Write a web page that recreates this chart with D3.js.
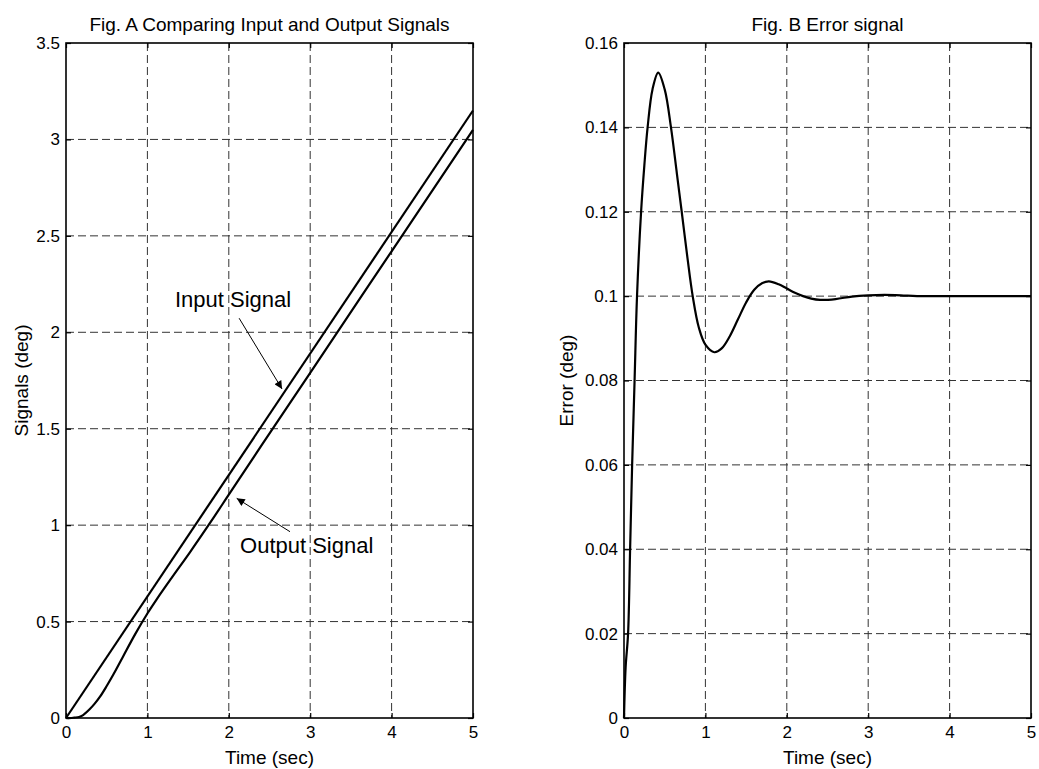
<!doctype html>
<html>
<head>
<meta charset="utf-8">
<script src="https://d3js.org/d3.v7.min.js"></script>
<style>
  body { margin: 0; background: #fff; }
  svg text { font-family: "Liberation Sans", Arial, Helvetica, sans-serif; fill: #000; }
</style>
</head>
<body>
<div id="chart"></div>
<script>
var W = 1039, H = 769;

// ---- data ----
var xTicks = [0, 1, 2, 3, 4, 5];

// Fig. A
var inputT = [0, 5];
var inputV = [0, 3.15];
var outputT = [0, 0.05, 0.1, 0.16, 0.21, 0.29, 0.35, 0.42, 0.5, 0.58, 0.7, 0.85, 1.0, 1.11, 1.3, 1.52, 1.78, 2.0, 2.41, 3.0, 4.0, 5.0];
var outputV = [0, 0, 0.002, 0.005, 0.015, 0.045, 0.073, 0.112, 0.166, 0.224, 0.318, 0.435, 0.542, 0.613, 0.728, 0.858, 1.018, 1.158, 1.419, 1.79, 2.42, 3.05];
var yTicksA = [0, 0.5, 1, 1.5, 2, 2.5, 3, 3.5];
var yLabelsA = ["0", "0.5", "1", "1.5", "2", "2.5", "3", "3.5"];

// Fig. B
var errorT = [0, 0.02, 0.05, 0.075, 0.1, 0.13, 0.16, 0.21, 0.25, 0.29, 0.35, 0.42, 0.5, 0.577, 0.65, 0.709, 0.78, 0.844, 0.92, 1.0, 1.11, 1.2, 1.3, 1.4, 1.5, 1.6, 1.7, 1.78, 1.9, 2.0, 2.1, 2.2, 2.3, 2.41, 2.6, 2.8, 3.0, 3.2, 3.4, 3.6, 4.0, 5.0];
var errorV = [0, 0.012, 0.02, 0.04, 0.06, 0.08, 0.10, 0.12, 0.131, 0.14, 0.149, 0.153, 0.149, 0.14, 0.129, 0.12, 0.109, 0.10, 0.0925, 0.0885, 0.0867, 0.0876, 0.0905, 0.0945, 0.0985, 0.1015, 0.1031, 0.1035, 0.1028, 0.1018, 0.1008, 0.10, 0.0994, 0.0991, 0.0993, 0.0999, 0.1002, 0.1003, 0.1002, 0.1, 0.1, 0.1];
var yTicksB = [0, 0.02, 0.04, 0.06, 0.08, 0.1, 0.12, 0.14, 0.16];
var yLabelsB = ["0", "0.02", "0.04", "0.06", "0.08", "0.1", "0.12", "0.14", "0.16"];

var svg = d3.select("#chart").append("svg")
    .attr("width", W)
    .attr("height", H);

function zip(a, b) { return a.map(function (d, i) { return [d, b[i]]; }); }

function panel(opt) {
    var x = d3.scaleLinear().domain([0, 5]).range([opt.left, opt.right]);
    var y = d3.scaleLinear().domain(opt.yDomain).range([opt.bottom, opt.top]);
    var g = svg.append("g");

    // dashed grid
    g.selectAll(".vg").data(xTicks.slice(1, -1)).enter().append("line")
        .attr("x1", function (d) { return x(d); }).attr("x2", function (d) { return x(d); })
        .attr("y1", opt.top).attr("y2", opt.bottom)
        .attr("stroke", "#333").attr("stroke-width", 1).attr("stroke-dasharray", "8,4");
    g.selectAll(".hg").data(opt.yTicks.slice(1, -1)).enter().append("line")
        .attr("y1", function (d) { return y(d); }).attr("y2", function (d) { return y(d); })
        .attr("x1", opt.left).attr("x2", opt.right)
        .attr("stroke", "#333").attr("stroke-width", 1).attr("stroke-dasharray", "8,4");

    // axes, ticks pointing in
    var ax = [
        [d3.axisBottom(x).tickValues(xTicks).tickFormat(d3.format("d")).tickPadding(8), "translate(0," + opt.bottom + ")"],
        [d3.axisTop(x).tickValues(xTicks).tickFormat(""), "translate(0," + opt.top + ")"],
        [d3.axisLeft(y).tickValues(opt.yTicks).tickFormat(function (d, i) { return opt.yLabels[i]; }).tickPadding(6), "translate(" + opt.left + ",0)"],
        [d3.axisRight(y).tickValues(opt.yTicks).tickFormat(""), "translate(" + opt.right + ",0)"]
    ];
    ax.forEach(function (a) {
        var ag = g.append("g").attr("transform", a[1])
            .call(a[0].tickSizeInner(-5).tickSizeOuter(0));
        ag.select(".domain").remove();
        ag.selectAll("line").attr("stroke", "#000").attr("stroke-width", 1.2);
        ag.selectAll("text").style("font-size", "17px").attr("fill", "#000");
    });

    // box
    g.append("rect")
        .attr("x", opt.left).attr("y", opt.top)
        .attr("width", opt.right - opt.left).attr("height", opt.bottom - opt.top)
        .attr("fill", "none").attr("stroke", "#000").attr("stroke-width", 1.6);

    var line = d3.line()
        .x(function (d) { return x(d[0]); })
        .y(function (d) { return y(d[1]); })
        .curve(d3.curveCatmullRom.alpha(0.5));
    opt.series.forEach(function (s) {
        g.append("path").datum(s)
            .attr("d", line)
            .attr("fill", "none").attr("stroke", "#000").attr("stroke-width", 2.2)
            .attr("stroke-linejoin", "round");
    });

    // titles and labels
    g.append("text")
        .attr("x", (opt.left + opt.right) / 2).attr("y", 31)
        .attr("text-anchor", "middle").style("font-size", "19px")
        .text(opt.title);
    g.append("text")
        .attr("x", (opt.left + opt.right) / 2).attr("y", 764)
        .attr("text-anchor", "middle").style("font-size", "19px")
        .text("Time (sec)");
    g.append("text")
        .attr("text-anchor", "middle")
        .attr("transform", "translate(" + opt.ylabelX + "," + ((opt.top + opt.bottom) / 2) + ")rotate(-90)")
        .style("font-size", "19px")
        .text(opt.ylabel);

    return { x: x, y: y, g: g };
}

var A = panel({
    left: 66, right: 473, top: 43, bottom: 718,
    yDomain: [0, 3.5], yTicks: yTicksA, yLabels: yLabelsA,
    title: "Fig. A Comparing Input and Output Signals",
    ylabel: "Signals (deg)", ylabelX: 28,
    series: [zip(inputT, inputV), zip(outputT, outputV)]
});

var B = panel({
    left: 624, right: 1031, top: 43, bottom: 718,
    yDomain: [0, 0.16], yTicks: yTicksB, yLabels: yLabelsB,
    title: "Fig. B Error signal",
    ylabel: "Error (deg)", ylabelX: 573,
    series: [zip(errorT, errorV)]
});

// annotations on Fig. A (data coordinates)
var notes = [
    { text: "Input Signal", tx: 1.339, ty: 2.131, from: [2.127, 2.073], to: [2.654, 1.706] },
    { text: "Output Signal", tx: 2.138, ty: 0.854, from: [2.752, 0.966], to: [2.097, 1.139] }
];
svg.append("defs").append("marker")
    .attr("id", "arr").attr("viewBox", "0 0 10 10")
    .attr("refX", 10).attr("refY", 5)
    .attr("markerWidth", 14).attr("markerHeight", 8)
    .attr("markerUnits", "userSpaceOnUse")
    .attr("orient", "auto")
    .append("path").attr("d", "M0,0 L10,5 L0,10 Z").attr("fill", "#000");

notes.forEach(function (n) {
    A.g.append("line")
        .attr("x1", A.x(n.from[0])).attr("y1", A.y(n.from[1]))
        .attr("x2", A.x(n.to[0])).attr("y2", A.y(n.to[1]))
        .attr("stroke", "#000").attr("stroke-width", 1)
        .attr("marker-end", "url(#arr)");
    A.g.append("text")
        .attr("x", A.x(n.tx)).attr("y", A.y(n.ty))
        .style("font-size", "22px")
        .text(n.text);
});
</script>
</body>
</html>
